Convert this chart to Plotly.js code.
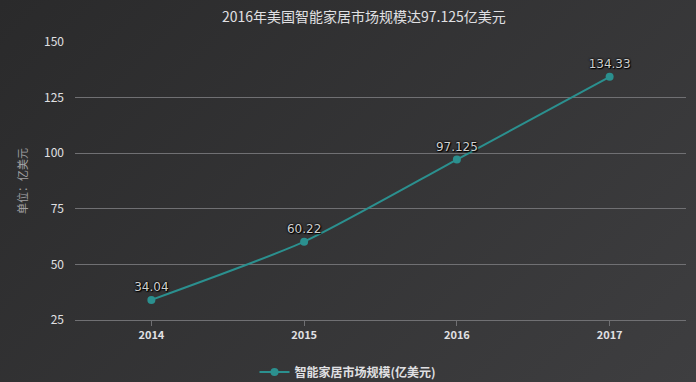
<!DOCTYPE html>
<html>
<head>
<meta charset="utf-8">
<script src="https://cdn.plot.ly/plotly-3.0.1.min.js"></script>
<style>
html,body{margin:0;padding:0;width:696px;height:382px;overflow:hidden;
background:linear-gradient(135deg,#2a2a2b 0%,#3e3e40 100%);}
#chart{width:696px;height:382px;}
</style>
</head>
<body>
<div id="chart"></div>
<script>
const categories = ['2014', '2015', '2016', '2017'];
const marketSize = [34.04, 60.22, 97.125, 134.33];
const labels = ['34.04', '60.22', '97.125', '134.33'];
const yTicks = [25, 50, 75, 100, 125, 150];
const seriesName = '智能家居市场规模(亿美元)';
const chartTitle = '2016年美国智能家居市场规模达97.125亿美元';
const yTitle = '单位：亿美元';

const font = '"Noto Sans CJK SC", "Noto Sans", sans-serif';

const trace = {
  x: categories,
  y: marketSize,
  type: 'scatter',
  mode: 'lines+markers+text',
  name: seriesName,
  text: labels,
  textposition: 'top center',
  textfont: {family: '"DejaVu Sans", sans-serif', size: 12, color: '#cfcfcf',
             shadow: '0 0 2px #000, 0 0 2px #000, 1px 1px 1px #000'},
  line: {color: '#2b908f', width: 2, shape: 'spline', smoothing: 0.6},
  marker: {color: '#2b908f', size: 8},
  cliponaxis: false,
  showlegend: true
};

const layout = {
  width: 696, height: 382,
  paper_bgcolor: 'rgba(0,0,0,0)',
  plot_bgcolor: 'rgba(0,0,0,0)',
  margin: {l: 75, r: 10, t: 42, b: 62},
  font: {family: font, color: '#E0E0E3'},
  title: {text: chartTitle, x: 329/696, xanchor: 'center', xref: 'paper', y: 1 - 17/382, yanchor: 'middle', yref: 'container',
          font: {family: font, size: 14, color: '#E0E0E3'}},
  xaxis: {
    type: 'category',
    range: [-0.5, 3.5],
    showgrid: false,
    showline: true, linecolor: '#707073', linewidth: 1,
    ticks: 'outside', ticklen: 5, tickcolor: '#707073',
    tickfont: {family: font, size: 11, color: '#E0E0E3', weight: 'bold'},
    zeroline: false
  },
  yaxis: {
    range: [25, 150],
    tickvals: yTicks,
    showgrid: true, gridcolor: '#707073', gridwidth: 1,
    showline: false, zeroline: false,
    ticks: '', ticklabelstandoff: 10,
    tickfont: {family: font, size: 12, color: '#E0E0E3'},
    title: {text: yTitle, font: {family: font, size: 11, color: '#A0A0A3'}, standoff: 14}
  },
  legend: {
    orientation: 'h', x: 0.5, xanchor: 'center', xref: 'container',
    y: 10/382, yref: 'container', yanchor: 'middle',
    font: {family: font, size: 12, color: '#E0E0E3', weight: 'bold'},
    bgcolor: 'rgba(0,0,0,0)'
  }
};

Plotly.newPlot('chart', [trace], layout, {displayModeBar: false, staticPlot: true});
</script>
</body>
</html>
